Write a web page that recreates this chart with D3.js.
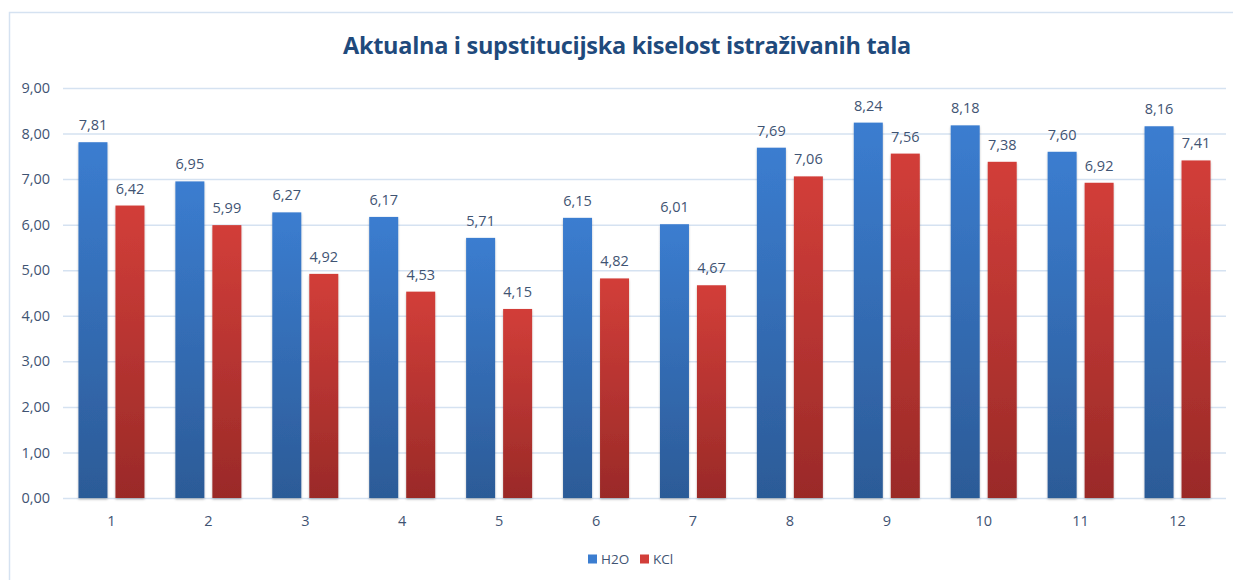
<!DOCTYPE html>
<html>
<head>
<meta charset="utf-8">
<script src="https://cdn.jsdelivr.net/npm/d3@7"></script>
<style>
  body { margin: 0; background: #fff; }
  text { font-family: "Open Sans", "Noto Sans", sans-serif; }
</style>
</head>
<body>
<div id="chart"></div>
<script>
const categories = ["1", "2", "3", "4", "5", "6", "7", "8", "9", "10", "11", "12"];
const seriesNames = ["H2O", "KCl"];
const h2oValues = [7.81, 6.95, 6.27, 6.17, 5.71, 6.15, 6.01, 7.69, 8.24, 8.18, 7.60, 8.16];
const kclValues = [6.42, 5.99, 4.92, 4.53, 4.15, 4.82, 4.67, 7.06, 7.56, 7.38, 6.92, 7.41];
const yTicks = [0, 1, 2, 3, 4, 5, 6, 7, 8, 9];
const title = "Aktualna i supstitucijska kiselost istraživanih tala";

const width = 1233, height = 580;
const plot = { left: 63, right: 1226, top: 88, bottom: 498 };
const textColor = "#3f5473";
const gridColor = "#d5e2f1";

const colors = {
  H2O: { top: "#3b7dd0", bottom: "#2c5b97" },
  KCl: { top: "#d23e39", bottom: "#9a2a28" }
};

const fmt = v => d3.format(".2f")(v).replace(".", ",");

const svg = d3.select("#chart").append("svg")
  .attr("width", width)
  .attr("height", height);

const defs = svg.append("defs");
seriesNames.forEach(key => {
  const g = defs.append("linearGradient")
    .attr("id", `grad-${key}`)
    .attr("x1", 0).attr("y1", 0).attr("x2", 0).attr("y2", 1);
  g.append("stop").attr("offset", "0%").attr("stop-color", colors[key].top);
  g.append("stop").attr("offset", "100%").attr("stop-color", colors[key].bottom);
});
defs.append("filter")
  .attr("id", "shadow")
  .attr("x", "-20%").attr("y", "-5%").attr("width", "140%").attr("height", "110%")
  .append("feDropShadow")
  .attr("dx", 0).attr("dy", 1.5).attr("stdDeviation", 1.2)
  .attr("flood-color", "#000").attr("flood-opacity", 0.25);

// outer frame (right and bottom edges fall outside the picture)
svg.append("rect")
  .attr("x", 9.5).attr("y", 12.5)
  .attr("width", 1300).attr("height", 700)
  .attr("fill", "none")
  .attr("stroke", gridColor)
  .attr("stroke-width", 1.5);

const x0 = d3.scaleBand()
  .domain(categories)
  .range([plot.left, plot.right]);

const pad = (x0.bandwidth() - 66) / 2;
const x1 = d3.scaleBand()
  .domain(seriesNames)
  .range([pad, x0.bandwidth() - pad])
  .paddingInner(8 / 37);

const y = d3.scaleLinear()
  .domain([0, 9])
  .range([plot.bottom, plot.top]);

// grid
svg.append("g")
  .attr("class", "grid")
  .attr("transform", `translate(${plot.left},0)`)
  .call(d3.axisLeft(y).tickValues(yTicks).tickSize(-(plot.right - plot.left)).tickFormat(""))
  .call(g => g.select(".domain").remove())
  .selectAll("line")
  .attr("stroke", gridColor)
  .attr("stroke-width", 1.5);

// y axis labels
svg.append("g")
  .attr("class", "y axis")
  .attr("transform", `translate(${plot.left},0)`)
  .call(d3.axisLeft(y).tickValues(yTicks).tickSize(0).tickPadding(13).tickFormat(fmt))
  .call(g => g.select(".domain").remove())
  .selectAll("text")
  .style("font-size", "14.5px")
  .attr("fill", textColor);

// x axis labels
svg.append("g")
  .attr("class", "x axis")
  .attr("transform", `translate(0,${plot.bottom})`)
  .call(d3.axisBottom(x0).tickSize(0).tickPadding(18))
  .call(g => g.select(".domain").remove())
  .selectAll("text")
  .style("font-size", "14.5px")
  .attr("fill", textColor);

const rows = categories.map((c, i) => ({ cat: c, H2O: h2oValues[i], KCl: kclValues[i] }));

const groups = svg.selectAll(".cat")
  .data(rows)
  .enter().append("g")
  .attr("class", "cat")
  .attr("transform", d => `translate(${x0(d.cat)},0)`);

groups.selectAll("rect")
  .data(d => seriesNames.map(key => ({ key, value: d[key] })))
  .enter().append("rect")
  .attr("x", d => x1(d.key))
  .attr("y", d => y(d.value))
  .attr("width", x1.bandwidth())
  .attr("height", d => y(0) - y(d.value))
  .attr("fill", d => `url(#grad-${d.key})`)
  .attr("filter", "url(#shadow)");

groups.selectAll(".data-label")
  .data(d => seriesNames.map(key => ({ key, value: d[key] })))
  .enter().append("text")
  .attr("class", "data-label")
  .attr("x", d => x1(d.key) + x1.bandwidth() / 2)
  .attr("y", d => y(d.value) - 12)
  .attr("text-anchor", "middle")
  .style("font-size", "14.5px")
  .attr("fill", textColor)
  .text(d => fmt(d.value));

// title
svg.append("text")
  .attr("x", 627)
  .attr("y", 54)
  .attr("text-anchor", "middle")
  .style("font-size", "23.5px")
  .style("font-weight", "bold")
  .style("letter-spacing", "-0.3px")
  .attr("fill", "#1f4a7c")
  .text(title);

// legend
const legend = svg.append("g").attr("transform", "translate(588,559)");
const legendX = { H2O: 0, KCl: 52 };
const items = legend.selectAll(".legend")
  .data(seriesNames)
  .enter().append("g")
  .attr("class", "legend")
  .attr("transform", d => `translate(${legendX[d]},0)`);
items.append("rect")
  .attr("x", 0).attr("y", -4.5)
  .attr("width", 9).attr("height", 9)
  .attr("fill", d => colors[d].top);
items.append("text")
  .attr("x", 13)
  .attr("dy", ".35em")
  .style("font-size", "13.5px")
  .attr("fill", textColor)
  .text(d => d);
</script>
</body>
</html>
